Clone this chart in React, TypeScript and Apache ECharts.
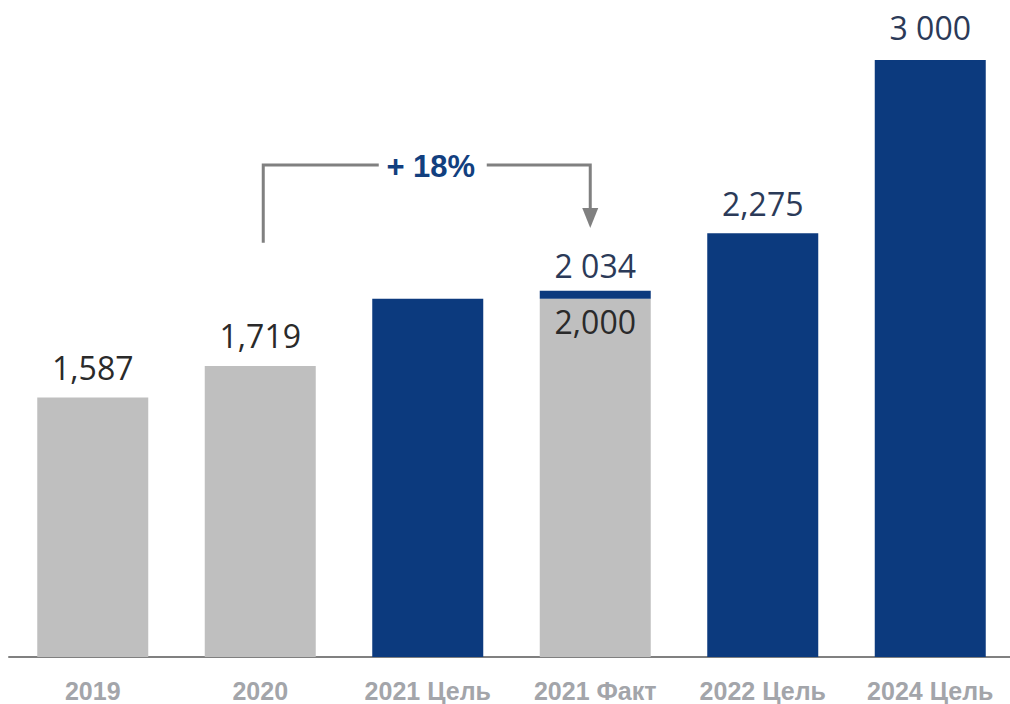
import React, { useEffect, useRef } from "react";
import * as echarts from "echarts";

const categories = ["2019", "2020", "2021 Цель", "2021 Факт", "2022 Цель", "2024 Цель"];
const kinds = ["fact", "fact", "target", "fact", "target", "target"];
const baseValues = [1587, 1719, 2000, 2000, 2275, 3000];
const extraValues: (number | null)[] = [null, null, null, 34, null, null];
const baseLabels = ["1,587", "1,719", "", "2,000", "2,275", "3 000"];
const baseLabelInside = [false, false, false, true, false, false];
const extraLabels = ["", "", "", "2 034", "", ""];

const growthText = "+ 18%";
const growthFrom = 1; // index of "2020"
const growthTo = 3; // index of "2021 Факт"
const growthLevel = 2560;
const growthStart = 2235;
const growthEnd = 2296;

const NAVY = "#0c3a7e";
const GRAY = "#bfbfbf";
const LINE = "#808080";

export default function App() {
  const ref = useRef<HTMLDivElement>(null);
  useEffect(() => {
    if (!ref.current) return;
    const chart = echarts.init(ref.current, null, { renderer: "svg" });
    const labelFont = {
      fontFamily: "Open Sans",
      fontSize: 32,
      fontWeight: 400 as any,
    };
    const baseData = baseValues.map((v, i) => {
      const isTarget = kinds[i] === "target";
      const txt = baseLabels[i];
      return {
        value: v,
        itemStyle: { color: isTarget ? NAVY : GRAY },
        label: txt
          ? {
              show: true,
              position: baseLabelInside[i] ? "insideTop" : "top",
              distance: baseLabelInside[i] ? 7 : i === 5 ? 17 : 14,
              formatter: txt,
              color: isTarget ? "#2b3a58" : "#2a2a2a",
              ...labelFont,
            }
          : { show: false },
      };
    });
    const extraData = extraValues.map((v, i) => {
      const txt = extraLabels[i];
      return {
        value: v,
        itemStyle: { color: NAVY },
        label: txt
          ? {
              show: true,
              position: "top",
              distance: 9,
              formatter: txt,
              color: "#2b3a58",
              ...labelFont,
            }
          : { show: false },
      };
    });
    chart.setOption({
      animation: false,
      grid: { left: 9, top: 60, width: 1005, bottom: 47, outerBoundsMode: "none", containLabel: false },
      xAxis: {
        type: "category",
        data: categories,
        axisLine: { show: true, lineStyle: { color: LINE, width: 2 } },
        axisTick: { show: false },
        axisLabel: {
          color: "#a3a5aa",
          fontFamily: "Liberation Sans",
          fontWeight: "bold",
          fontSize: 25,
          margin: 21,
          interval: 0,
        },
      },
      yAxis: {
        type: "value",
        min: 500,
        max: 3000,
        show: false,
        splitLine: { show: false },
      },
      series: [
        {
          type: "bar",
          stack: "total",
          barWidth: 111,
          data: baseData,
        },
        {
          type: "bar",
          stack: "total",
          barWidth: 111,
          data: extraData,
        },
      ],
    });

    const p = (idx: number, val: number) =>
      chart.convertToPixel({ gridIndex: 0 }, [categories[idx], val]) as number[];
    const a = p(growthFrom, growthStart);
    const top = p(growthFrom, growthLevel);
    const b = p(growthTo, growthEnd);
    const x1 = a[0] + 3;
    const x2 = b[0] - 5;
    const yTop = top[1];
    const midX = (x1 + x2) / 2 + 4;
    const lineStyle = { stroke: LINE, lineWidth: 3, fill: null };
    chart.setOption({
      graphic: [
        {
          type: "polyline",
          shape: { points: [[x1, a[1]], [x1, yTop], [midX - 52, yTop]] },
          style: lineStyle,
          silent: true,
        },
        {
          type: "polyline",
          shape: { points: [[midX + 56, yTop], [x2, yTop], [x2, b[1] - 20]] },
          style: lineStyle,
          silent: true,
        },
        {
          type: "polygon",
          shape: { points: [[x2 - 8, b[1] - 20], [x2 + 8, b[1] - 20], [x2, b[1]]] },
          style: { fill: LINE },
          silent: true,
        },
        {
          type: "text",
          x: midX,
          y: yTop + 1,
          style: {
            text: growthText,
            fill: "#123f7f",
            font: "bold 31px 'Liberation Sans', Arial, sans-serif",
            align: "center",
            verticalAlign: "middle",
          },
          silent: true,
        },
      ],
    });
    return () => chart.dispose();
  }, []);
  return (
    <div
      ref={ref}
      style={{ position: "fixed", left: 0, top: 0, width: 1010, height: 704, background: "#fff" }}
    />
  );
}
